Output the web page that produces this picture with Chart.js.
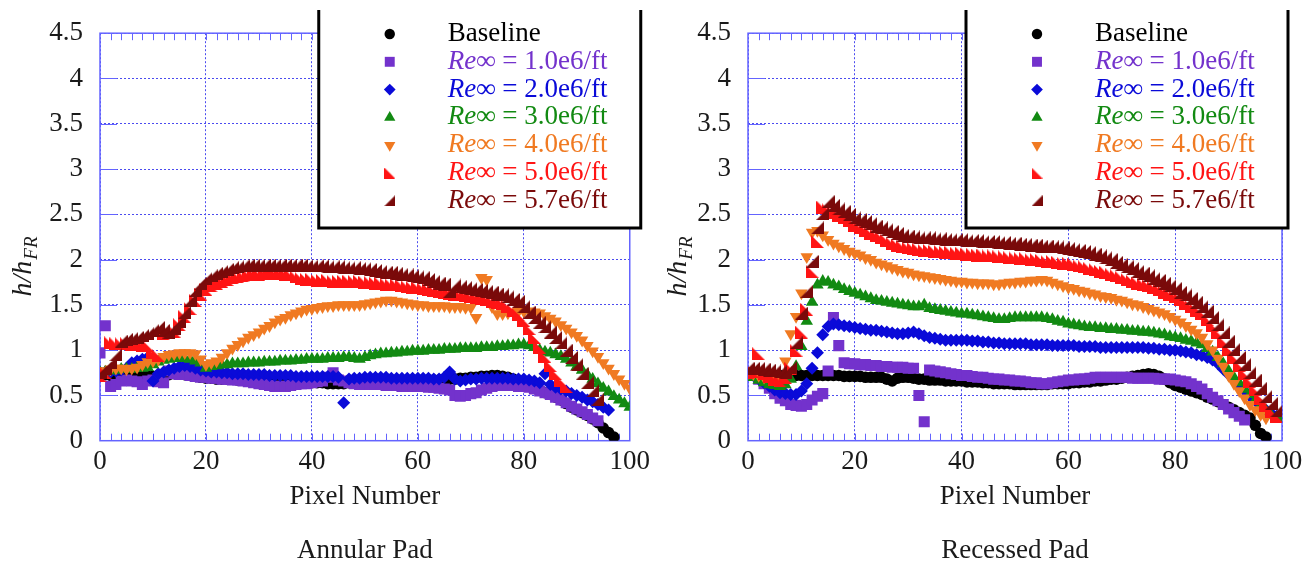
<!DOCTYPE html>
<html>
<head>
<meta charset="utf-8">
<script src="https://cdn.jsdelivr.net/npm/chart.js@4.4.1/dist/chart.umd.min.js"></script>
<style>
  html, body { margin: 0; padding: 0; background: #fff; }
  #wrap { position: relative; width: 1310px; height: 569px; }
  .pane { position: absolute; top: 0; width: 655px; height: 569px; }
</style>
</head>
<body>
<div id="wrap">
  <div class="pane" style="left:0"><canvas id="annularChart"></canvas></div>
  <div class="pane" style="left:655px"><canvas id="recessedChart"></canvas></div>
</div>
<script>
// Series labels and colours (legend order)
const reValues = ["1.0e6/ft", "2.0e6/ft", "3.0e6/ft", "4.0e6/ft", "5.0e6/ft", "5.7e6/ft"];
const seriesColors = ["#000000", "#7332cc", "#0a0ad8", "#128a12", "#f07a22", "#ff1414", "#7a0a0a"];
const xTicks = [0, 20, 40, 60, 80, 100];
const yTicks = [0, 0.5, 1, 1.5, 2, 2.5, 3, 3.5, 4, 4.5];
const padTitles = ["Annular Pad", "Recessed Pad"];

// h/hFR per pixel number (index = pixel number) - Annular Pad
const annularBaseline = [0.75,0.73,0.72,0.72,0.71,0.71,0.70,0.70,0.71,0.71,
  0.71,0.72,0.72,0.73,0.74,0.74,0.73,0.72,0.71,0.70, 0.69,0.69,0.68,0.68,0.68,0.68,0.67,0.67,0.67,0.66,
  0.66,0.66,0.66,0.65,0.65,0.65,0.65,0.64,0.64,0.64, 0.64,0.64,0.64,0.63,0.63,0.63,0.63,0.64,0.65,0.66,
  0.67,0.67,0.67,0.67,0.66,0.66,0.66,0.66,0.66,0.66, 0.66,0.66,0.66,0.67,0.67,0.68,0.68,0.68,0.69,0.69,
  0.70,0.70,0.71,0.71,0.72,0.72,0.71,0.70,0.68,0.65, 0.62,0.60,0.58,0.56,0.53,0.51,0.48,0.45,0.41,0.37,
  0.34,0.31,0.28,0.24,0.20,0.14,0.09,0.04];
const annularRe10 = [0.97,1.27,0.60,0.62,0.66,0.67,0.66,0.65,0.62,0.66,
  0.67,0.65,0.64,0.77,0.74,0.73,0.73,0.72,0.71,0.70, 0.70,0.69,0.69,0.68,0.68,0.67,0.67,0.66,0.65,0.64,
  0.63,0.62,0.61,0.60,0.60,0.60,0.61,0.62,0.63,0.63, 0.64,0.65,0.66,0.70,0.75,0.67,0.66,0.64,0.63,0.62,
  0.62,0.62,0.62,0.62,0.61,0.61,0.61,0.60,0.60,0.60, 0.60,0.60,0.59,0.59,0.58,0.57,0.56,0.50,0.49,0.50,
  0.52,0.53,0.56,0.58,0.60,0.61,0.61,0.61,0.61,0.60, 0.60,0.59,0.57,0.55,0.53,0.51,0.48,0.45,0.42,0.38,
  0.35,0.32,0.29,0.25,0.22];
const annularRe20 = [0.75,0.76,0.76,0.77,0.78,0.80,0.86,0.88,0.90,0.92,
  0.66,0.74,0.76,0.78,0.80,0.82,0.83,0.82,0.80,0.78, 0.77,0.76,0.76,0.75,0.75,0.74,0.74,0.74,0.73,0.73,
  0.73,0.73,0.72,0.72,0.72,0.72,0.72,0.71,0.71,0.71, 0.71,0.71,0.71,0.71,0.71,0.70,0.42,0.68,0.69,0.69,
  0.70,0.70,0.70,0.70,0.70,0.69,0.69,0.69,0.69,0.69, 0.69,0.69,0.69,0.68,0.68,0.70,0.76,0.68,0.66,0.67,
  0.68,0.68,0.69,0.69,0.69,0.69,0.69,0.69,0.68,0.68, 0.68,0.67,0.66,0.64,0.74,0.62,0.59,0.57,0.55,0.52,
  0.50,0.48,0.45,0.43,0.40,0.37,0.34];
const annularRe30 = [0.75,0.76,0.77,0.78,0.79,0.79,0.79,0.80,0.80,0.81,
  0.84,0.87,0.89,0.90,0.91,0.92,0.91,0.90,0.88,0.86, 0.80,0.82,0.83,0.84,0.84,0.85,0.85,0.85,0.86,0.86,
  0.86,0.87,0.87,0.87,0.88,0.88,0.88,0.89,0.89,0.90, 0.90,0.90,0.90,0.91,0.91,0.91,0.92,0.92,0.91,0.90,
  0.92,0.94,0.95,0.96,0.96,0.97,0.97,0.98,0.98,0.99, 0.99,0.99,1.00,1.00,1.00,1.01,1.01,1.01,1.02,1.02,
  1.02,1.02,1.03,1.03,1.03,1.04,1.04,1.05,1.05,1.06, 1.06,1.05,1.03,1.00,0.98,0.97,0.95,0.93,0.90,0.86,
  0.82,0.78,0.73,0.68,0.63,0.58,0.54,0.49,0.45,0.41, 0.37];
const annularRe40 = [0.75,0.77,0.79,0.80,0.80,0.79,0.80,0.81,0.84,0.87,
  0.88,0.90,0.93,0.95,0.96,0.97,0.97,0.97,0.96,0.90, 0.84,0.86,0.88,0.92,0.97,1.02,1.06,1.10,1.14,1.17,
  1.20,1.24,1.27,1.31,1.34,1.36,1.39,1.41,1.43,1.45, 1.46,1.47,1.48,1.49,1.49,1.50,1.50,1.50,1.50,1.50,
  1.51,1.52,1.53,1.54,1.55,1.55,1.54,1.53,1.52,1.51, 1.50,1.50,1.49,1.49,1.49,1.49,1.48,1.48,1.48,1.47,
  1.47,1.36,1.80,1.78,1.48,1.40,1.40,1.41,1.42,1.43, 1.43,1.43,1.42,1.41,1.38,1.35,1.32,1.28,1.24,1.20,
  1.16,1.11,1.05,0.99,0.93,0.86,0.80,0.74,0.68,0.63, 0.58];
const annularRe50 = [0.72,0.75,1.08,1.07,1.07,1.07,1.06,1.06,1.05,1.05,
  0.97,0.94,1.18,1.20,1.21,1.28,1.37,1.46,1.55,1.62, 1.67,1.71,1.74,1.76,1.78,1.80,1.81,1.82,1.83,1.84,
  1.84,1.85,1.85,1.85,1.85,1.84,1.83,1.81,1.79,1.78, 1.78,1.77,1.77,1.77,1.76,1.76,1.76,1.76,1.76,1.76,
  1.75,1.75,1.74,1.74,1.73,1.72,1.72,1.71,1.70,1.69, 1.69,1.68,1.67,1.66,1.65,1.64,1.63,1.62,1.61,1.60,
  1.59,1.58,1.57,1.56,1.54,1.53,1.51,1.48,1.44,1.39, 1.33,1.24,1.14,1.03,0.93,0.83,0.74,0.66,0.60];
const annularRe57 = [0.75,0.80,0.86,0.95,1.10,1.12,1.13,1.14,1.16,1.18,
  1.22,1.25,1.22,1.20,1.24,1.32,1.42,1.55,1.66,1.74, 1.79,1.82,1.85,1.87,1.89,1.91,1.92,1.93,1.94,1.94,
  1.94,1.94,1.94,1.94,1.94,1.94,1.94,1.94,1.94,1.93, 1.93,1.93,1.93,1.92,1.92,1.92,1.91,1.91,1.91,1.90,
  1.90,1.89,1.88,1.87,1.86,1.86,1.85,1.84,1.83,1.82, 1.81,1.80,1.78,1.76,1.74,1.73,1.65,1.72,1.70,1.69,
  1.68,1.67,1.66,1.65,1.64,1.62,1.61,1.59,1.56,1.54, 1.48,1.42,1.36,1.31,1.26,1.20,1.14,1.08,1.00,0.92,
  0.84,0.74,0.64,0.55,0.46];

// h/hFR per pixel number - Recessed Pad
const recessedBaseline = [0.75,0.74,0.73,0.73,0.73,0.72,0.72,0.72,0.72,0.72,
  0.72,0.72,0.72,0.72,0.72,0.72,0.72,0.72,0.71,0.71, 0.71,0.71,0.70,0.70,0.70,0.70,0.68,0.66,0.69,0.70,
  0.70,0.69,0.68,0.68,0.67,0.67,0.67,0.66,0.66,0.66, 0.66,0.65,0.65,0.65,0.64,0.64,0.63,0.63,0.63,0.63,
  0.62,0.62,0.62,0.62,0.62,0.62,0.62,0.63,0.63,0.63, 0.63,0.64,0.64,0.65,0.65,0.66,0.66,0.67,0.68,0.68,
  0.69,0.70,0.71,0.72,0.73,0.74,0.73,0.71,0.68,0.64, 0.61,0.59,0.57,0.55,0.53,0.51,0.48,0.46,0.43,0.40,
  0.37,0.34,0.31,0.28,0.25,0.17,0.08,0.04];
const recessedRe10 = [0.75,0.72,0.68,0.63,0.58,0.52,0.47,0.44,0.40,0.39,
  0.38,0.40,0.45,0.49,0.52,0.77,1.36,1.05,0.86,0.85, 0.85,0.84,0.84,0.83,0.83,0.82,0.82,0.81,0.81,0.81,
  0.80,0.80,0.50,0.21,0.78,0.77,0.76,0.75,0.74,0.73, 0.72,0.72,0.71,0.70,0.70,0.69,0.68,0.68,0.67,0.67,
  0.66,0.66,0.65,0.64,0.64,0.63,0.63,0.64,0.65,0.66, 0.67,0.67,0.68,0.68,0.69,0.70,0.70,0.70,0.70,0.70,
  0.70,0.70,0.69,0.69,0.69,0.69,0.69,0.68,0.68,0.68, 0.67,0.66,0.65,0.63,0.60,0.57,0.52,0.48,0.44,0.40,
  0.35,0.31,0.27,0.23];
const recessedRe20 = [0.74,0.72,0.68,0.64,0.60,0.56,0.53,0.52,0.51,0.51,
  0.55,0.63,0.80,0.97,1.17,1.26,1.29,1.28,1.27,1.26, 1.25,1.24,1.23,1.22,1.22,1.21,1.20,1.19,1.18,1.18,
  1.19,1.20,1.18,1.16,1.14,1.13,1.12,1.11,1.11,1.11, 1.11,1.11,1.10,1.10,1.09,1.09,1.08,1.08,1.07,1.07,
  1.07,1.07,1.07,1.06,1.06,1.06,1.06,1.05,1.05,1.05, 1.05,1.05,1.04,1.04,1.04,1.04,1.03,1.03,1.03,1.03,
  1.03,1.03,1.03,1.03,1.03,1.02,1.02,1.01,1.01,1.00, 1.00,0.99,0.98,0.97,0.95,0.94,0.92,0.89,0.85,0.79,
  0.73,0.67,0.61,0.55,0.49,0.44,0.39,0.34,0.30,0.27];
const recessedRe30 = [0.72,0.70,0.67,0.64,0.62,0.61,0.60,0.62,0.68,0.82,
  1.04,1.32,1.53,1.72,1.76,1.75,1.72,1.70,1.67,1.65, 1.63,1.61,1.59,1.57,1.55,1.54,1.53,1.52,1.51,1.50,
  1.49,1.48,1.48,1.50,1.46,1.45,1.44,1.43,1.42,1.41, 1.40,1.40,1.39,1.38,1.37,1.36,1.35,1.34,1.34,1.35,
  1.36,1.36,1.36,1.36,1.36,1.36,1.35,1.34,1.32,1.31, 1.29,1.28,1.27,1.26,1.25,1.25,1.24,1.24,1.23,1.23,
  1.22,1.22,1.21,1.21,1.20,1.20,1.19,1.18,1.17,1.15, 1.14,1.13,1.11,1.10,1.08,1.06,1.02,0.98,0.92,0.85,
  0.77,0.70,0.64,0.57,0.51,0.45,0.39,0.33,0.28,0.25, 0.24];
const recessedRe40 = [0.75,0.74,0.72,0.70,0.70,0.69,0.70,0.88,1.18,1.37,
  1.63,2.03,2.30,2.32,2.27,2.22,2.18,2.15,2.12,2.09, 2.07,2.05,2.02,2.00,1.97,1.95,1.93,1.91,1.89,1.87,
  1.86,1.84,1.83,1.82,1.81,1.80,1.79,1.78,1.77,1.76, 1.76,1.75,1.75,1.74,1.74,1.74,1.73,1.73,1.74,1.75,
  1.75,1.76,1.76,1.77,1.77,1.78,1.77,1.75,1.73,1.71, 1.69,1.68,1.66,1.65,1.63,1.62,1.60,1.59,1.58,1.56,
  1.55,1.53,1.51,1.50,1.48,1.46,1.44,1.42,1.40,1.37, 1.34,1.31,1.27,1.23,1.19,1.14,1.07,1.00,0.91,0.82,
  0.72,0.63,0.55,0.47,0.40,0.34,0.29,0.25];
const recessedRe50 = [0.75,0.76,0.96,0.74,0.71,0.68,0.66,0.70,0.80,1.00,
  1.20,1.45,1.87,2.20,2.58,2.55,2.52,2.49,2.46,2.43, 2.38,2.35,2.32,2.29,2.27,2.24,2.21,2.18,2.16,2.14,
  2.13,2.12,2.11,2.10,2.10,2.09,2.09,2.08,2.08,2.07, 2.07,2.06,2.06,2.05,2.05,2.04,2.04,2.03,2.03,2.02,
  2.02,2.01,2.01,2.00,2.00,1.99,1.98,1.98,1.97,1.96, 1.96,1.95,1.93,1.92,1.90,1.89,1.87,1.86,1.84,1.82,
  1.80,1.78,1.76,1.74,1.73,1.71,1.69,1.67,1.64,1.62, 1.59,1.56,1.52,1.48,1.44,1.40,1.34,1.27,1.19,1.10,
  1.01,0.92,0.83,0.74,0.65,0.56,0.47,0.39,0.32,0.27];
const recessedRe57 = [0.80,0.80,0.80,0.79,0.78,0.77,0.76,0.75,0.81,1.08,
  1.41,1.65,1.98,2.35,2.51,2.64,2.60,2.56,2.53,2.50, 2.46,2.44,2.42,2.40,2.37,2.35,2.33,2.31,2.29,2.27,
  2.26,2.25,2.24,2.24,2.24,2.23,2.23,2.22,2.22,2.22, 2.22,2.21,2.21,2.21,2.20,2.20,2.20,2.19,2.19,2.18,
  2.18,2.17,2.17,2.16,2.16,2.15,2.15,2.14,2.14,2.13, 2.12,2.11,2.10,2.09,2.08,2.06,2.04,2.02,2.00,1.97,
  1.95,1.92,1.90,1.87,1.85,1.82,1.79,1.77,1.74,1.71, 1.68,1.64,1.61,1.57,1.53,1.48,1.43,1.36,1.28,1.19,
  1.10,1.01,0.92,0.84,0.75,0.67,0.58,0.49,0.41,0.33];

const annularSeries = [annularBaseline, annularRe10, annularRe20, annularRe30, annularRe40, annularRe50, annularRe57];
const recessedSeries = [recessedBaseline, recessedRe10, recessedRe20, recessedRe30, recessedRe40, recessedRe50, recessedRe57];

const gridColor = "#4b4bef";
const frameColor = "#6464ff";
const textColor = "#1a1a1a";
const serif = "'Liberation Serif', 'Times New Roman', serif";
Chart.defaults.font.family = serif;

// Right-angle triangle markers (the 5.0 and 5.7 series)
function cornerMarker(color, rightSide, size) {
    const c = document.createElement("canvas");
    c.width = size; c.height = size;
    const g = c.getContext("2d");
    g.fillStyle = color;
    g.beginPath();
    if (rightSide) {
        g.moveTo(size, 0); g.lineTo(size, size); g.lineTo(0, size);
    } else {
        g.moveTo(0, 0); g.lineTo(0, size); g.lineTo(size, size);
    }
    g.closePath();
    g.fill();
    return c;
}

const markerStyles = [
    { pointStyle: "circle", radius: 5.8, rotation: 0 },
    { pointStyle: "rect", radius: 7.8, rotation: 0 },
    { pointStyle: "rectRot", radius: 6.5, rotation: 0 },
    { pointStyle: "triangle", radius: 7.2, rotation: 0 },
    { pointStyle: "triangle", radius: 7.2, rotation: 180 },
    { pointStyle: cornerMarker(seriesColors[5], false, 13), radius: 6, rotation: 0 },
    { pointStyle: cornerMarker(seriesColors[6], true, 13), radius: 6, rotation: 0 }
];
const legendMarkers = markerStyles.map((m, i) => i < 5 ? { ...m, radius: m.radius * 0.9 } :
    { ...m, pointStyle: cornerMarker(seriesColors[i], i === 6, 11) });

function drawMarker(ctx, i, x, y) {
    const m = legendMarkers[i];
    ctx.fillStyle = seriesColors[i];
    Chart.helpers.drawPoint(ctx, { pointStyle: m.pointStyle, radius: m.radius, rotation: m.rotation, borderWidth: 0 }, x, y);
}

// Frame, minor ticks, axis titles and the boxed legend
const padDecor = {
    id: "padDecor",
    beforeDatasetsDraw(chart) {
        const { ctx, chartArea: a, scales: { x, y } } = chart;
        ctx.save();
        ctx.strokeStyle = frameColor;
        ctx.lineWidth = 1;
        ctx.beginPath();
        for (let v = 2; v < 100; v += 2) {
            const px = Math.round(x.getPixelForValue(v)) + 0.5;
            ctx.moveTo(px, a.bottom); ctx.lineTo(px, a.bottom - 7);
            ctx.moveTo(px, a.top); ctx.lineTo(px, a.top + 7);
        }
        yTicks.slice(1, -1).forEach(v => {
            const py = Math.round(y.getPixelForValue(v)) + 0.5;
            ctx.moveTo(a.left, py); ctx.lineTo(a.left + 17, py);
        });
        ctx.stroke();
        ctx.lineWidth = 1.5;
        ctx.strokeRect(a.left, a.top, a.width, a.height);
        ctx.restore();
    },
    afterDraw(chart, args, opts) {
        const { ctx, chartArea: a } = chart;
        const cx = (a.left + a.right) / 2;
        ctx.save();
        ctx.fillStyle = textColor;
        ctx.textAlign = "center";
        ctx.textBaseline = "middle";
        ctx.font = "27px " + serif;
        ctx.fillText("Pixel Number", cx, 497);
        ctx.fillText(opts.title, cx, 551);

        // y title: h/h_FR, rotated
        ctx.save();
        ctx.translate(22, 267);
        ctx.rotate(-Math.PI / 2);
        ctx.textAlign = "left";
        ctx.textBaseline = "alphabetic";
        const mainFont = "italic 28px " + serif;
        const subFont = "italic 19px " + serif;
        ctx.font = mainFont;
        const w1 = ctx.measureText("h/h").width;
        ctx.font = subFont;
        const w2 = ctx.measureText("FR").width;
        const x0 = -(w1 + w2) / 2;
        ctx.font = mainFont;
        ctx.fillText("h/h", x0, 9);
        ctx.font = subFont;
        ctx.fillText("FR", x0 + w1 + 1, 15);
        ctx.restore();

        // legend box
        const bx = a.right + opts.boxRight - opts.boxWidth;
        const bRight = a.right + opts.boxRight;
        const bBottom = 228;
        ctx.fillStyle = "#fff";
        ctx.fillRect(bx, 0, bRight - bx, bBottom);
        ctx.strokeStyle = "#000";
        ctx.lineWidth = 3;
        ctx.beginPath();
        ctx.moveTo(bx, 10); ctx.lineTo(bx, bBottom); ctx.lineTo(bRight, bBottom); ctx.lineTo(bRight, 10);
        ctx.stroke();

        ctx.textAlign = "left";
        ctx.textBaseline = "middle";
        for (let i = 0; i < seriesColors.length; i++) {
            const ry = 34 + i * 27.8;
            drawMarker(ctx, i, bx + 71, ry);
            ctx.fillStyle = seriesColors[i];
            let tx = bx + 129;
            if (i === 0) {
                ctx.font = "27px " + serif;
                ctx.fillText("Baseline", tx, ry);
            } else {
                ctx.font = "italic 27px " + serif;
                ctx.fillText("Re\u221E", tx, ry);
                tx += ctx.measureText("Re\u221E").width;
                ctx.font = "27px " + serif;
                ctx.fillText(" = " + reValues[i - 1], tx, ry);
            }
        }
        ctx.restore();
    }
};

function buildChart(canvasId, series, title, yWidth, padRight, boxRight) {
    const datasets = series.map((values, i) => ({
        label: i === 0 ? "Baseline" : "Re\u221E = " + reValues[i - 1],
        data: values.map((v, k) => ({ x: k, y: v })),
        backgroundColor: seriesColors[i],
        borderColor: seriesColors[i],
        borderWidth: 0,
        pointStyle: markerStyles[i].pointStyle,
        pointRadius: markerStyles[i].radius,
        rotation: markerStyles[i].rotation,
        order: -i
    }));
    return new Chart(document.getElementById(canvasId), {
        type: "scatter",
        data: { datasets },
        options: {
            responsive: true,
            maintainAspectRatio: false,
            animation: false,
            layout: { padding: { top: 30, right: padRight, left: 0, bottom: 0 } },
            plugins: {
                legend: { display: false },
                tooltip: { enabled: false },
                padDecor: { title, boxWidth: 322, boxRight }
            },
            scales: {
                x: {
                    type: "linear", min: 0, max: 100,
                    afterBuildTicks: s => { s.ticks = xTicks.map(v => ({ value: v })); },
                    ticks: { color: textColor, font: { size: 27 }, padding: 5, autoSkip: false, maxRotation: 0,
                             callback: v => String(v) },
                    grid: { color: gridColor, lineWidth: 1, drawTicks: false },
                    border: { display: false, dash: [2, 2] },
                    afterFit: s => { s.height = 128.3; }
                },
                y: {
                    min: 0, max: 4.5,
                    afterBuildTicks: s => { s.ticks = yTicks.map(v => ({ value: v })); },
                    ticks: { color: textColor, font: { size: 27 }, padding: 17, callback: v => String(v) },
                    grid: { color: gridColor, lineWidth: 1, drawTicks: false },
                    border: { display: false, dash: [2, 2] },
                    afterFit: s => { s.width = yWidth; }
                }
            }
        },
        plugins: [padDecor]
    });
}

buildChart("annularChart", annularSeries, padTitles[0], 100, 23, 11);
buildChart("recessedChart", recessedSeries, padTitles[1], 93, 28, 6);
</script>
</body>
</html>
